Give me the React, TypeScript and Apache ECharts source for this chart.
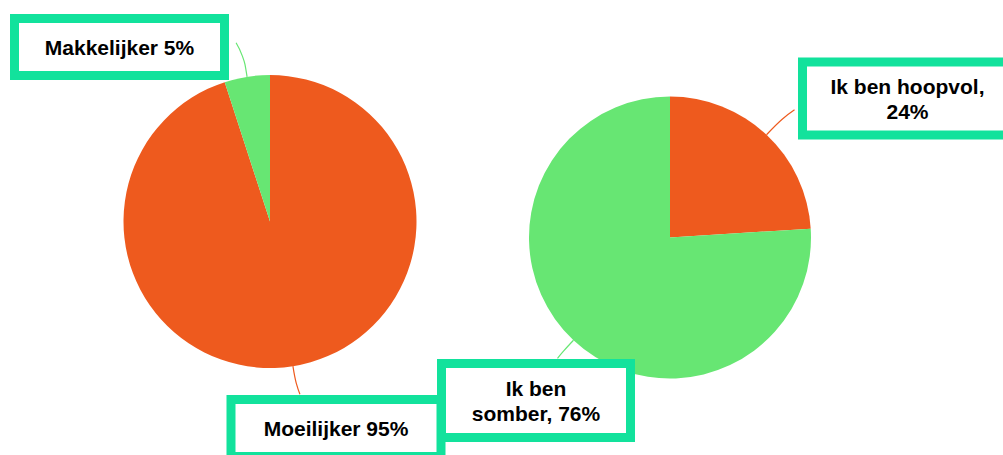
import React, { useEffect, useRef } from 'react';
import * as echarts from 'echarts';

// ---- data ----
const leftNames = ['Moeilijker', 'Makkelijker'];
const leftValues = [95, 5];
const rightNames = ['Ik ben hoopvol', 'Ik ben somber'];
const rightValues = [24, 76];
const sliceColors = ['#EE5A1E', '#67E673'];

// ---- layout ----
const pieCenters = [[270, 221.5], [670, 237.5]];
const pieRadii = [146.5, 141];
const labelCenters = [
  [[336, 428], [119.5, 47]],
  [[907.5, 98.5], [536, 400.5]],
];
const labelWidths = [
  [201, 201],
  [201, 180],
];
const labelPaddings = [
  [[10.5, 0], [10.5, 0]],
  [[8.5, 0, 5.5, 0], [9, 0, 6, 0]],
];
// label line end offsets from slice anchor
const lineEnds = [
  [[7, 28], [-11, -34]],
  [[28, -25], [-16, 18]],
];

const BORDER = '#12E29C';

function leftLabel(p: any) {
  return `${p.name} ${p.value}%`;
}
function rightLabel(p: any) {
  if (p.dataIndex === 0) return `${p.name},\n${p.value}%`;
  const words = p.name.split(' ');
  const last = words.pop();
  return `${words.join(' ')}\n${last}, ${p.value}%`;
}

function makeData(names: string[], values: number[], si: number) {
  return names.map((n, i) => ({
    name: n,
    value: values[i],
    itemStyle: { color: sliceColors[i] },
    label: { width: labelWidths[si][i], padding: labelPaddings[si][i] },
  }));
}

function anchorOf(values: number[], si: number, di: number) {
  const total = values.reduce((a, b) => a + b, 0);
  let cum = 0;
  for (let i = 0; i < di; i++) cum += values[i];
  const theta = ((cum + values[di] / 2) / total) * Math.PI * 2;
  const dir = [Math.sin(theta), -Math.cos(theta)];
  const c = pieCenters[si];
  const r = pieRadii[si];
  return { pt: [c[0] + r * dir[0], c[1] + r * dir[1]], dir };
}

export default function App() {
  const ref = useRef<HTMLDivElement>(null);
  useEffect(() => {
    document.body.style.margin = '0';
    const chart = echarts.init(ref.current!, null, { renderer: 'svg' });
    const baseLabel = {
      show: true,
      position: 'outside',
      fontFamily: '"Liberation Sans", Arial, sans-serif',
      fontWeight: 'bold',
      fontSize: 21,
      lineHeight: 25,
      color: '#000',
      align: 'center',
      backgroundColor: '#fff',
      borderColor: BORDER,
      borderWidth: 9,
      borderRadius: 0,
    };
    const baseLine = {
      show: true,
      length: 12,
      length2: 8,
      smooth: 0.5,
      lineStyle: { width: 1.2 },
    };
    const allValues = [leftValues, rightValues];
    const mkLayout = (si: number) => (p: any) => {
      const a = anchorOf(allValues[si], si, p.dataIndex);
      const e = lineEnds[si][p.dataIndex];
      const len = Math.hypot(e[0], e[1]) * 0.6;
      const mid = [a.pt[0] + a.dir[0] * len, a.pt[1] + a.dir[1] * len];
      const end = [a.pt[0] + e[0], a.pt[1] + e[1]];
      return {
        x: labelCenters[si][p.dataIndex][0],
        y: labelCenters[si][p.dataIndex][1],
        align: 'center',
        verticalAlign: 'middle',
        labelLinePoints: [a.pt, mid, end],
      };
    };
    chart.setOption({
      animation: false,
      series: [0, 1].map((si) => ({
        type: 'pie',
        center: pieCenters[si],
        radius: pieRadii[si],
        startAngle: 90,
        clockwise: true,
        avoidLabelOverlap: false,
        emphasis: { disabled: true },
        label: si === 0
          ? { ...baseLabel, formatter: leftLabel, lineHeight: 27 }
          : { ...baseLabel, formatter: rightLabel },
        labelLine: baseLine,
        labelLayout: mkLayout(si),
        data: si === 0 ? makeData(leftNames, leftValues, 0) : makeData(rightNames, rightValues, 1),
      })),
    });
    return () => chart.dispose();
  }, []);
  return <div ref={ref} style={{ width: 1003, height: 455 }} />;
}
